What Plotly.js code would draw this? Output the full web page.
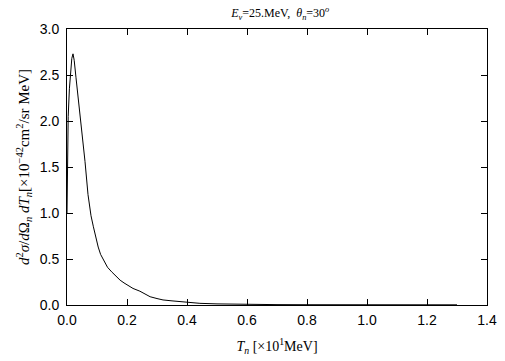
<!DOCTYPE html>
<html>
<head>
<meta charset="utf-8">
<script src="https://cdn.plot.ly/plotly-3.0.1.min.js"></script>
<style>html,body{margin:0;padding:0;background:#fff;}#plot{width:505px;height:361px;}</style>
</head>
<body>
<div id="plot"></div>
<script>
// Neutron kinetic energy T_n [x10 MeV]
const tn = [0.0, 0.001, 0.004, 0.008, 0.012, 0.016, 0.02, 0.024, 0.03, 0.04, 0.05, 0.06, 0.07, 0.08, 0.088, 0.095, 0.104, 0.112, 0.121, 0.135, 0.149, 0.163, 0.177, 0.19, 0.204, 0.22, 0.243, 0.26, 0.277, 0.3, 0.32, 0.35, 0.366, 0.4, 0.443, 0.5, 0.55, 0.6, 0.7, 0.8, 0.9, 1.0, 1.1, 1.2, 1.3];
// Double differential cross section [x10^-42 cm^2/sr MeV]
const xsec = [1.0, 1.65, 2.05, 2.35, 2.55, 2.68, 2.73, 2.66, 2.47, 2.18, 1.88, 1.56, 1.2, 0.97, 0.85, 0.74, 0.63, 0.55, 0.49, 0.41, 0.36, 0.31, 0.27, 0.24, 0.21, 0.18, 0.15, 0.12, 0.09, 0.07, 0.055, 0.045, 0.04, 0.028, 0.018, 0.012, 0.008, 0.005, 0.004, 0.003, 0.003, 0.002, 0.002, 0.002, 0.002];

const xTickVals = [0, 0.2, 0.4, 0.6, 0.8, 1.0, 1.2, 1.4];
const xTickText = ['0.0', '0.2', '0.4', '0.6', '0.8', '1.0', '1.2', '1.4'];
const yTickVals = [0, 0.5, 1.0, 1.5, 2.0, 2.5, 3.0];
const yTickText = ['0.0', '0.5', '1.0', '1.5', '2.0', '2.5', '3.0'];

const serif = 'Liberation Serif, Times New Roman, serif';
const sans = 'Liberation Sans, Arial, sans-serif';

const trace = {
  x: tn, y: xsec, type: 'scatter', mode: 'lines',
  line: {color: '#000', width: 1}, hoverinfo: 'skip', showlegend: false
};

const axisCommon = {
  showgrid: false, zeroline: false, showline: true, linecolor: '#000', linewidth: 1,
  mirror: 'ticks', ticks: 'inside', ticklen: 6, tickwidth: 1, tickcolor: '#000',
  tickfont: {family: sans, size: 14, color: '#000'}
};

const layout = {
  width: 505, height: 361,
  margin: {l: 67, r: 18, t: 29, b: 56, pad: 0},
  paper_bgcolor: '#fff', plot_bgcolor: '#fff',
  title: {
    text: '<i>E<sub>ν</sub></i>=25.MeV,  <i>θ<sub>n</sub></i>=30<sup><i>o</i></sup>',
    font: {family: serif, size: 12, color: '#000'},
    x: 0.555, xanchor: 'center', y: 0.975, yanchor: 'top'
  },
  xaxis: Object.assign({}, axisCommon, {
    range: [0, 1.4], tickvals: xTickVals, ticktext: xTickText,
    ticklabelstandoff: 2,
    title: {text: '<i>T<sub>n</sub></i> [×10<sup>1</sup>MeV]', font: {family: serif, size: 14, color: '#000'}, standoff: 14}
  }),
  yaxis: Object.assign({}, axisCommon, {
    range: [0, 3], tickvals: yTickVals, ticktext: yTickText,
    ticklabelstandoff: 4,
    title: {text: '<i>d</i><sup>2</sup><i>σ</i>/<i>d</i>Ω<sub><i>n</i></sub> <i>dT<sub>n</sub></i>[×10<sup>−42</sup>cm<sup>2</sup>/sr MeV]', font: {family: serif, size: 15, color: '#000'}, standoff: 6}
  })
};

Plotly.newPlot('plot', [trace], layout, {staticPlot: true, displayModeBar: false});
</script>
</body>
</html>
